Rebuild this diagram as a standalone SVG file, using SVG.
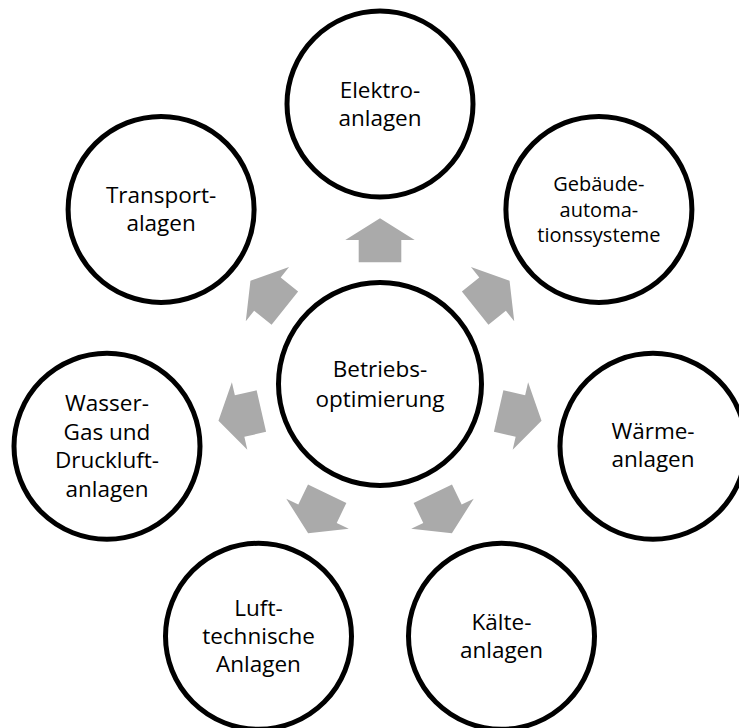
<svg xmlns="http://www.w3.org/2000/svg" xmlns:xlink="http://www.w3.org/1999/xlink" width="739" height="728" viewBox="0 0 739 728">
  <style>
    .node circle { fill: #ffffff; stroke: #000000; stroke-width: 5; }
    .node text { font-family: "Open Sans", "Noto Sans", "Liberation Sans", sans-serif; font-size: 22.5px; fill: #000000; text-anchor: middle; }
    .node text.small { font-size: 20px; }
    .arrow { fill: #aaaaaa; stroke: none; }
  </style>
  <defs>
    <polygon id="arr" class="arrow" points="0,-165.7 34.7,-144 21.3,-144 21.3,-121.7 -21.3,-121.7 -21.3,-144 -34.7,-144"/>
  </defs>
  <rect width="739" height="728" fill="#ffffff"/>

  <g id="connectors" transform="translate(380,384)">
    <use xlink:href="#arr" href="#arr" transform="rotate(0)"/>
    <use xlink:href="#arr" href="#arr" transform="rotate(51.4286)"/>
    <use xlink:href="#arr" href="#arr" transform="rotate(102.857)"/>
    <use xlink:href="#arr" href="#arr" transform="rotate(154.286)"/>
    <use xlink:href="#arr" href="#arr" transform="rotate(205.714)"/>
    <use xlink:href="#arr" href="#arr" transform="rotate(257.143)"/>
    <use xlink:href="#arr" href="#arr" transform="rotate(308.571)"/>
  </g>

  <g id="center" class="node">
    <circle cx="380" cy="384" r="101.5"/>
    <text x="380" y="377">Betriebs-</text>
    <text x="380" y="407">optimierung</text>
  </g>

  <g id="elektro" class="node">
    <circle cx="380" cy="104" r="93"/>
    <text x="380" y="97.5">Elektro-</text>
    <text x="380" y="125.5">anlagen</text>
  </g>

  <g id="gebaeude" class="node">
    <circle cx="598.9" cy="209.4" r="93"/>
    <text class="small" x="598.9" y="191">Gebäude-</text>
    <text class="small" x="598.9" y="216.5">automa-</text>
    <text class="small" x="598.9" y="242">tionssysteme</text>
  </g>

  <g id="waerme" class="node">
    <circle cx="653" cy="446.3" r="93"/>
    <text x="653" y="439">Wärme-</text>
    <text x="653" y="467">anlagen</text>
  </g>

  <g id="kaelte" class="node">
    <circle cx="501.5" cy="636.3" r="93"/>
    <text x="501.5" y="629.5">Kälte-</text>
    <text x="501.5" y="657.5">anlagen</text>
  </g>

  <g id="luft" class="node">
    <circle cx="258.5" cy="636.3" r="93"/>
    <text x="258.5" y="615.5">Luft-</text>
    <text x="258.5" y="643.5">technische</text>
    <text x="258.5" y="671.5">Anlagen</text>
  </g>

  <g id="wasser" class="node">
    <circle cx="107" cy="446.3" r="93"/>
    <text x="107" y="410.5">Wasser-</text>
    <text x="107" y="439.5">Gas und</text>
    <text x="107" y="468">Druckluft-</text>
    <text x="107" y="496.5">anlagen</text>
  </g>

  <g id="transport" class="node">
    <circle cx="161.1" cy="209.4" r="93"/>
    <text x="161.1" y="202.5">Transport-</text>
    <text x="161.1" y="230.5">alagen</text>
  </g>
</svg>
